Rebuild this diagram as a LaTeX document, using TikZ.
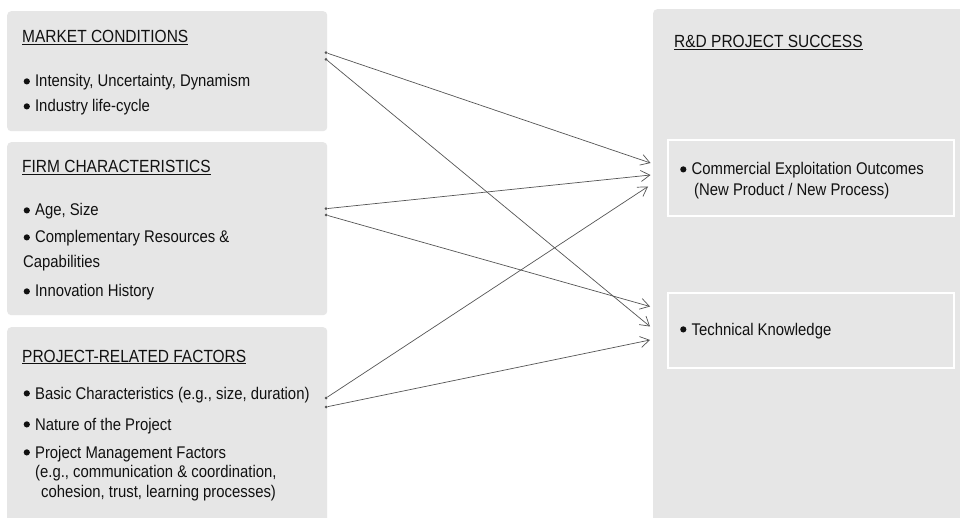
\documentclass[tikz,border=0pt]{standalone}
\usepackage{fontspec}
\setmainfont{Liberation Sans}[FakeStretch=0.88]
\usetikzlibrary{arrows.meta}
\definecolor{boxgray}{HTML}{E6E6E6}
\definecolor{linegray}{HTML}{555555}
\definecolor{txt}{HTML}{111111}
\newcommand{\bul}{\tikz[baseline=0pt]\fill[txt] (0pt,5.6pt) circle (3.1pt);\hspace{5.2pt}}
\begin{document}
\begin{tikzpicture}[x=1pt,y=-1pt,
  panel/.style={fill=boxgray, rounded corners=4pt, draw=none, inner sep=0pt, anchor=north west},
  subpanel/.style={fill=boxgray, draw=white, line width=2pt, inner sep=0pt, anchor=north west},
  ttl/.style={anchor=base west, inner sep=0pt, font=\fontsize{17.6}{21}\selectfont, text=txt},
  item/.style={anchor=base west, inner sep=0pt, font=\fontsize{16.9}{19}\selectfont, text=txt},
  link/.style={draw=linegray, line width=0.7pt, -{Straight Barb[length=9pt,width=11pt]}},
  srcdot/.style={circle, fill=linegray, inner sep=0pt, minimum size=3pt}
]
\clip (0,0) rectangle (960,518);
\fill[white] (0,0) rectangle (960,518);
% panels
\node[panel, minimum width=320pt, minimum height=120pt] (market) at (7,11) {};
\node[panel, minimum width=320pt, minimum height=173pt] (firm) at (7,142) {};
\node[panel, minimum width=320pt, minimum height=210pt] (project) at (7,327) {};
\node[panel, minimum width=330pt, minimum height=530pt] (success) at (653,9) {};
\node[subpanel, minimum width=286pt, minimum height=76pt] (commercial) at (667,139) {};
\node[subpanel, minimum width=286pt, minimum height=75pt] (technical) at (667,292) {};
% market text
\node[ttl] (mt) at (22,43) {\underline{MARKET CONDITIONS}};
\node[item] (m1t) at (23.5,87) {\bul Intensity, Uncertainty, Dynamism};
\node[item] (m2t) at (23.5,112) {\bul Industry life-cycle};
% firm text
\node[ttl] (ft) at (22,173) {\underline{FIRM CHARACTERISTICS}};
\node[item] (f1t) at (23.5,216) {\bul Age, Size};
\node[item] (f2t) at (23.5,243) {\bul Complementary Resources \&};
\node[item] (f3t) at (23,268) {Capabilities};
\node[item] (f4t) at (23.5,297) {\bul Innovation History};
% project text
\node[ttl] (pt) at (22,362) {\underline{PROJECT-RELATED FACTORS}};
\node[item] (p1t) at (23.5,399) {\bul Basic Characteristics (e.g., size, duration)};
\node[item] (p2t) at (23.5,430) {\bul Nature of the Project};
\node[item] (p3t) at (23.5,458) {\bul Project Management Factors};
\node[item] (p4t) at (35,477) {(e.g., communication \& coordination,};
\node[item] (p5t) at (41,497) {cohesion, trust, learning processes)};
% success text
\node[ttl] (st) at (674,48) {\underline{R\&D PROJECT SUCCESS}};
\node[item] (c1t) at (680,175) {\bul Commercial Exploitation Outcomes};
\node[item] (c2t) at (694,196) {(New Product / New Process)};
\node[item] (t1t) at (680,335) {\bul Technical Knowledge};
% source dots
\node[srcdot] (m1) at (326,52.7) {};
\node[srcdot] (m2) at (326,59.3) {};
\node[srcdot] (f1) at (326,208.7) {};
\node[srcdot] (f2) at (326,215) {};
\node[srcdot] (p1) at (326,398) {};
\node[srcdot] (p2) at (326,407) {};
% arrow ends
\coordinate (c1) at (650.5,163);
\coordinate (c2) at (650.5,175);
\coordinate (c3) at (648,186.5);
\coordinate (t1) at (650,306.5);
\coordinate (t2) at (650,326.5);
\coordinate (t3) at (650,340);
% links
\draw[link] (m1) -- (c1);
\draw[link] (m2) -- (t2);
\draw[link] (f1) -- (c2);
\draw[link] (f2) -- (t1);
\draw[link] (p1) -- (c3);
\draw[link] (p2) -- (t3);
\end{tikzpicture}
\end{document}
